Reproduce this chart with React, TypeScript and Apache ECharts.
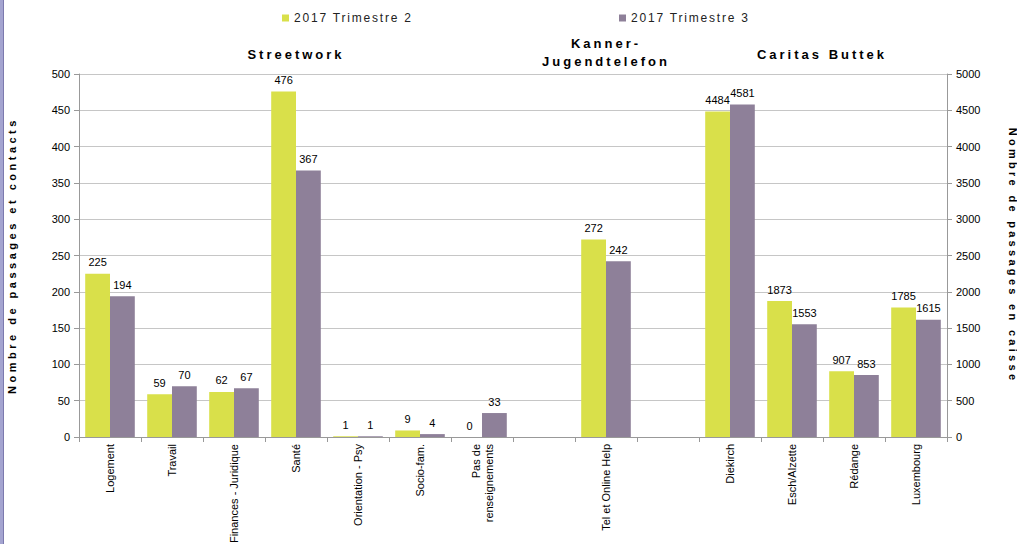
import React, { useEffect, useRef } from "react";
import * as echarts from "echarts";

const categories = [
  "Logement",
  "Travail",
  "Finances - Juridique",
  "Santé",
  "Orientation - Psy",
  "Socio-fam.",
  "Pas de\nrenseignements",
  "",
  "Tel et Online Help",
  "",
  "Diekirch",
  "Esch/Alzette",
  "Rédange",
  "Luxembourg",
];

const seriesNames = ["2017 Trimestre 2", "2017 Trimestre 3"];

// Streetwork + Kanner-Jugendtelefon (left axis)
const contactsQ2 = [225, 59, 62, 476, 1, 9, 0, null, 272, null, null, null, null, null];
const contactsQ3 = [194, 70, 67, 367, 1, 4, 33, null, 242, null, null, null, null, null];

// Caritas Buttek (right axis)
const caisseQ2 = [null, null, null, null, null, null, null, null, null, null, 4484, 1873, 907, 1785];
const caisseQ3 = [null, null, null, null, null, null, null, null, null, null, 4581, 1553, 853, 1615];

const leftTicks = { min: 0, max: 500, interval: 50 };
const rightTicks = { min: 0, max: 5000, interval: 500 };

const groupTitles = [
  { text: "Streetwork", x: 296, y: 54 },
  { text: "Kanner-\nJugendtelefon", x: 606, y: 52 },
  { text: "Caritas Buttek", x: 822, y: 54 },
];

const leftAxisName = "Nombre de passages et contacts";
const rightAxisName = "Nombre de passages en caisse";

const GREEN = "#d9e04a";
const PURPLE = "#8e8099";
const FONT = "'Liberation Sans', Arial, sans-serif";

export default function App() {
  const ref = useRef<HTMLDivElement>(null);

  useEffect(() => {
    if (!ref.current) return;
    const chart = echarts.init(ref.current, undefined, { renderer: "svg" });

    const label = {
      show: true,
      position: "top" as const,
      distance: 6,
      fontSize: 11,
      fontFamily: FONT,
      color: "#000",
    };

    const barCommon = {
      type: "bar" as const,
      barGap: "0%",
      barCategoryGap: "20%",
      label,
    };

    chart.setOption({
      animation: false,
      textStyle: { fontFamily: FONT },
      grid: { left: 79, right: 70, top: 74, bottom: 107, containLabel: false, outerBoundsMode: "none" },
      legend: [
        {
          data: [seriesNames[0]],
          left: 277,
          top: 7,
          icon: "rect",
          itemWidth: 7,
          itemHeight: 7,
          textStyle: { fontSize: 12, color: "#222", fontFamily: FONT },
        },
        {
          data: [seriesNames[1]],
          left: 614,
          top: 7,
          icon: "rect",
          itemWidth: 7,
          itemHeight: 7,
          textStyle: { fontSize: 12, color: "#222", fontFamily: FONT },
        },
      ],
      graphic: [
        { type: "rect", left: 0, top: 0, shape: { width: 3, height: 544 }, style: { fill: "#a4a4d0" }, silent: true },
        { type: "rect", left: 3, top: 0, shape: { width: 1, height: 544 }, style: { fill: "#7c7aae" }, silent: true },
        ...groupTitles.map((t) => ({
          type: "text",
          x: t.x,
          y: t.y,
          silent: true,
          style: {
            text: t.text,
            fill: "#000",
            font: `bold 13px ${FONT}`,
            textAlign: "center",
            textVerticalAlign: "middle",
            lineHeight: 18,
          },
        })),
      ],
      xAxis: [
        {
          type: "category",
          data: categories,
          position: "bottom",
          axisLine: { show: true, lineStyle: { color: "#999", width: 1 } },
          axisTick: { show: true, length: 5, lineStyle: { color: "#999" } },
          axisLabel: {
            rotate: 90,
            interval: 0,
            fontSize: 11,
            color: "#000",
            margin: 7,
            lineHeight: 13,
            fontFamily: FONT,
          },
        },
        {
          type: "category",
          data: categories,
          position: "top",
          show: false,
        },
      ],
      yAxis: [
        {
          type: "value",
          position: "left",
          ...leftTicks,
          name: leftAxisName,
          nameLocation: "middle",
          nameGap: 62,
          nameRotate: 90,
          nameTextStyle: { fontSize: 11, fontWeight: "bold", color: "#000", fontFamily: FONT },
          axisLine: { show: true, lineStyle: { color: "#999" } },
          axisTick: { show: true, length: 5, lineStyle: { color: "#999" } },
          axisLabel: { fontSize: 11, color: "#000", margin: 9, fontFamily: FONT, formatter: (v: number) => String(v) },
          splitLine: { show: true, lineStyle: { color: "#c6c6c6", width: 1 } },
        },
        {
          type: "value",
          position: "right",
          ...rightTicks,
          name: rightAxisName,
          nameLocation: "middle",
          nameGap: 60,
          nameRotate: -90,
          nameTextStyle: { fontSize: 11, fontWeight: "bold", color: "#000", fontFamily: FONT },
          axisLine: { show: true, lineStyle: { color: "#999" } },
          axisTick: { show: true, length: 5, lineStyle: { color: "#999" } },
          axisLabel: { fontSize: 11, color: "#000", margin: 9, fontFamily: FONT, formatter: (v: number) => String(v) },
          splitLine: { show: false },
        },
      ],
      series: [
        { ...barCommon, name: seriesNames[0], xAxisIndex: 0, yAxisIndex: 0, data: contactsQ2, itemStyle: { color: GREEN } },
        { ...barCommon, name: seriesNames[1], xAxisIndex: 0, yAxisIndex: 0, data: contactsQ3, itemStyle: { color: PURPLE } },
        { ...barCommon, name: seriesNames[0], xAxisIndex: 1, yAxisIndex: 1, data: caisseQ2, itemStyle: { color: GREEN } },
        { ...barCommon, name: seriesNames[1], xAxisIndex: 1, yAxisIndex: 1, data: caisseQ3, itemStyle: { color: PURPLE } },
      ],
    });

    // Letter spacing for the widely spaced texts of the original
    const spacing: Record<string, string> = {
      [leftAxisName]: "3.5px",
      [rightAxisName]: "3.3px",
      Streetwork: "3px",
      "Kanner-": "3px",
      Jugendtelefon: "3px",
      "Caritas Buttek": "3px",
      [seriesNames[0]]: "1.8px",
      [seriesNames[1]]: "1.8px",
    };
    const texts = ref.current.querySelectorAll("text");
    texts.forEach((t) => {
      const s = spacing[(t.textContent || "").trim()];
      if (s) t.setAttribute("letter-spacing", s);
    });

    return () => chart.dispose();
  }, []);

  return (
    <div
      ref={ref}
      style={{ position: "fixed", left: 0, top: 0, width: 1017, height: 544, background: "#fff" }}
    />
  );
}
